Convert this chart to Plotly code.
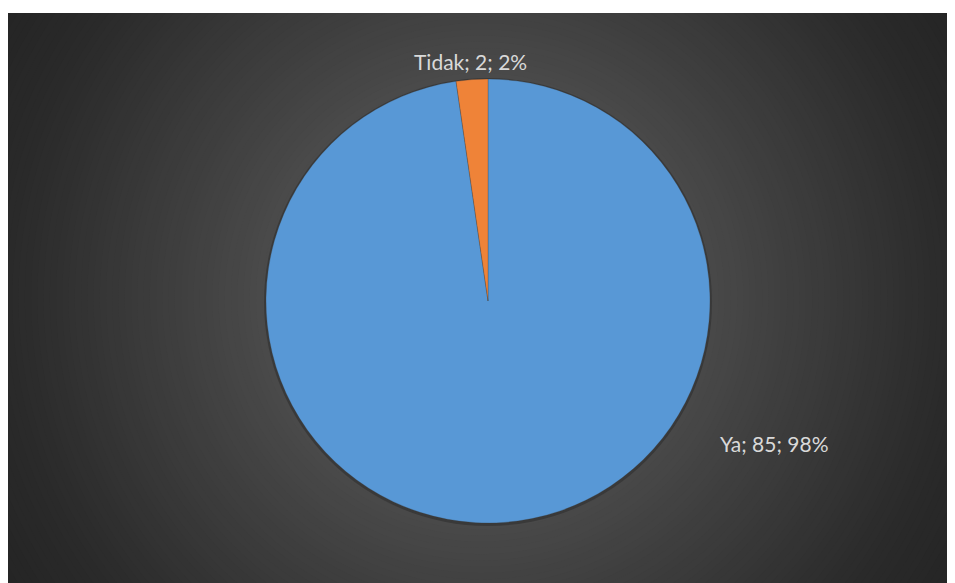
import plotly.graph_objects as go

# ---- data ----
labels = ["Ya", "Tidak"]
values = [85, 2]
colors = ["#5898d6", "#ef8338"]

W, H = 955, 583
OFF = 8  # page body margin shifts the figure by 8px; compensate


def fx(p):
    return (p - OFF) / W


def fy(p):
    return 1 - (p - OFF) / H


fig = go.Figure()

PCX, PCY, PR = 488, 301, 222
fig.add_trace(go.Pie(
    labels=labels,
    values=values,
    sort=False,
    direction="clockwise",
    rotation=0,
    marker=dict(colors=colors, line=dict(color="rgba(60,60,60,0.45)", width=0.6)),
    textinfo="none",
    hoverinfo="label+value+percent",
    showlegend=False,
    domain=dict(x=[fx(PCX - PR), fx(PCX + PR)], y=[fy(PCY + PR), fy(PCY - PR)]),
))

# ---- background: dark radial gradient inside chart area ----
box_x0, box_y0, box_x1, box_y1 = 7, 13, 955, 583
cx, cy = (box_x0 + box_x1) / 2, (box_y0 + box_y1) / 2
stops = [(0, 80), (221, 74), (474, 42), (553, 37), (750, 36)]


def lum(d):
    for (d0, c0), (d1, c1) in zip(stops[:-1], stops[1:]):
        if d <= d1:
            t = (d - d0) / (d1 - d0)
            return c0 + t * (c1 - c0)
    return stops[-1][1]


shapes = []
N = 120
rmax = 750
for i in range(N + 1):
    r = rmax * (1 - i / N)
    if r <= 0:
        continue
    c = lum(r)
    shapes.append(dict(
        type="circle", xref="paper", yref="paper", layer="below",
        x0=fx(cx - r), x1=fx(cx + r),
        y0=fy(cy + r), y1=fy(cy - r),
        fillcolor=f"rgb({c:.1f},{c:.1f},{c:.1f})", line=dict(width=0),
    ))
# white mask above chart area (body margin provides the left white strip)
shapes.append(dict(type="rect", xref="paper", yref="paper", layer="below",
                   x0=-1, x1=2, y0=fy(box_y0), y1=2, fillcolor="white", line=dict(width=0)))
# soft shadow behind the pie
shapes.append(dict(type="circle", xref="paper", yref="paper", layer="below",
                   x0=fx(PCX - PR - 2), x1=fx(PCX + PR + 2),
                   y0=fy(PCY + PR + 3), y1=fy(PCY - PR - 1),
                   fillcolor="rgba(0,0,0,0.22)", line=dict(width=0)))

total = sum(values)
texts = [f"{l}; {v}; {round(100 * v / total)}%" for l, v in zip(labels, values)]
label_pos = [(774.5, 443.5), (470, 61)]
annotations = [
    dict(text=t, x=fx(px), y=fy(py), xref="paper", yref="paper",
         showarrow=False, xanchor="center", yanchor="middle",
         font=dict(family="Lato", size=21, color="#d9d9d9"))
    for t, (px, py) in zip(texts, label_pos)
]

fig.update_layout(
    width=W, height=H,
    margin=dict(l=0, r=0, t=0, b=0),
    paper_bgcolor="#262626",
    plot_bgcolor="rgba(0,0,0,0)",
    shapes=shapes,
    annotations=annotations,
    showlegend=False,
)

fig.write_html("out.html")
